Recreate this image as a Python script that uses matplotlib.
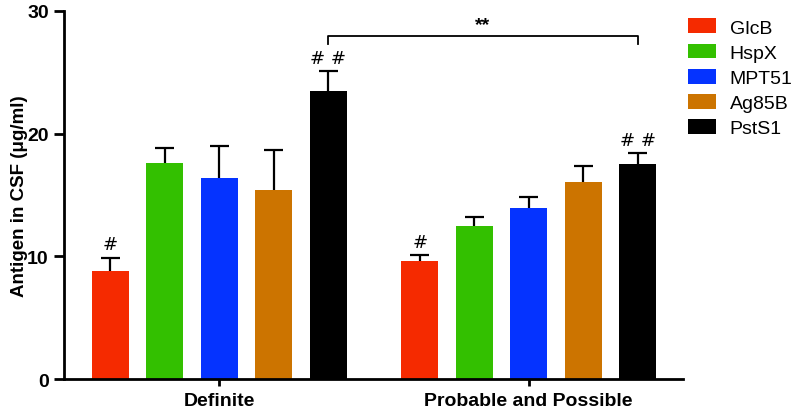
import numpy as np
import matplotlib.pyplot as plt
from matplotlib.patches import Patch

groups = ["Definite", "Probable and Possible"]
antigens = ["GlcB", "HspX", "MPT51", "Ag85B", "PstS1"]
colors = ["#F52A00", "#33C000", "#0533FF", "#CC7400", "#000000"]

definite_mean = [8.8, 17.6, 16.4, 15.4, 23.5]
definite_err = [1.1, 1.2, 2.6, 3.3, 1.6]
probable_mean = [9.6, 12.5, 13.9, 16.05, 17.5]
probable_err = [0.5, 0.7, 0.9, 1.35, 0.9]

group_marks = [["#", "", "", "", "# #"], ["#", "", "", "", "# #"]]

plt.rcParams['font.family'] = ['Liberation Sans', 'DejaVu Sans']

fig = plt.figure(figsize=(7.95, 4.14), dpi=100)
ax = fig.add_axes([0.0805, 0.0821, 0.7785, 0.889])

centers = [0, 5.68]
width = 0.68
cap = 0.175
means = [definite_mean, probable_mean]
errs = [definite_err, probable_err]

for g in range(2):
    xs = centers[g] + np.arange(5) - 2
    m = np.array(means[g])
    top = m + np.array(errs[g])
    ax.bar(xs, m, width=width, color=colors, zorder=2)
    # upper error bars only
    ax.vlines(xs, m, top, color='black', lw=1.6, zorder=3)
    ax.hlines(top, xs - cap, xs + cap, color='black', lw=1.6, zorder=3)
    for i in range(5):
        if group_marks[g][i]:
            ax.text(xs[i], top[i] + 0.35, group_marks[g][i],
                    ha='center', va='bottom', fontsize=13, family='DejaVu Sans')

# significance bracket between the PstS1 bars
x1 = centers[0] + 2
x2 = centers[1] + 2
ax.plot([x1, x1, x2, x2], [27.3, 28.0, 28.0, 27.3], color='black', lw=1.3,
        clip_on=False)
ax.text((x1 + x2) / 2, 28.2, "**", ha='center', va='bottom', fontsize=14,
        fontweight='bold')

ax.set_xlim(-2.85, centers[1] + 2.83)
ax.set_ylim(0, 30)
ax.set_yticks([0, 10, 20, 30])
ax.set_xticks(centers)
ax.set_xticklabels(groups, fontsize=14, fontweight='bold')
ax.set_yticklabels(["0", "10", "20", "30"], fontsize=14, fontweight='bold')
ax.set_ylabel("Antigen in CSF (\u03bcg/ml)", fontsize=13.5, fontweight='bold',
              labelpad=-1)

for s in ['top', 'right']:
    ax.spines[s].set_visible(False)
for s in ['left', 'bottom']:
    ax.spines[s].set_linewidth(2)
ax.tick_params(axis='y', width=2, length=7, pad=4)
ax.tick_params(axis='x', width=2, length=5, pad=4)

handles = [Patch(facecolor=c, edgecolor='none') for c in colors]
fig.legend(handles, antigens, loc='upper left', bbox_to_anchor=(0.855, 0.972),
           borderaxespad=0, frameon=False, fontsize=14, handlelength=1.45,
           handleheight=0.8, labelspacing=0.36, handletextpad=0.72)

fig.savefig("out.png", dpi=100)
